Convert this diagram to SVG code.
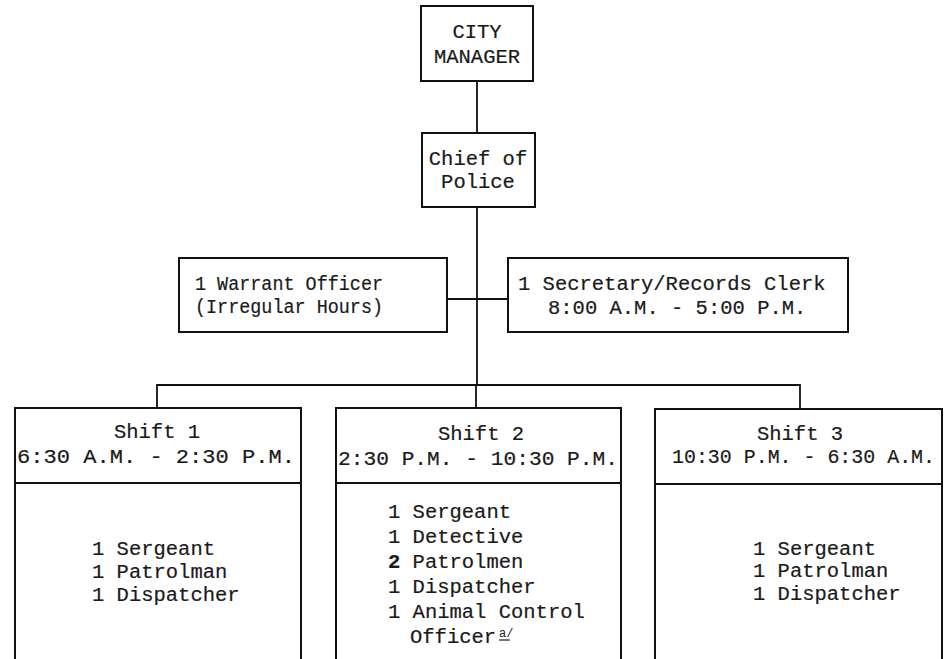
<svg xmlns="http://www.w3.org/2000/svg" width="951" height="659" viewBox="0 0 951 659">
<defs>
<style>
.box{fill:#fff;stroke:#111;stroke-width:2}
.ln{fill:none;stroke:#111;stroke-width:1.8}
.t{font-family:"Liberation Mono","Courier New",monospace;font-size:20.5px;fill:#1a1a1a;stroke:#1a1a1a;stroke-width:0.2}
.c{text-anchor:middle}
.sup{font-family:"Liberation Mono","Courier New",monospace;font-size:12px;fill:#1a1a1a}
</style>
</defs>
<rect width="951" height="659" fill="#fff"/>
<g id="connectors">
<line class="ln" x1="477" y1="81" x2="477" y2="133"/>
<line class="ln" x1="477" y1="207" x2="477" y2="385"/>
<line class="ln" x1="447" y1="299" x2="508" y2="299"/>
<polyline class="ln" points="157,408 157,385 800,385 800,409"/>
<line class="ln" x1="476" y1="385" x2="476" y2="408"/>
</g>
<g id="city-manager">
<rect class="box" x="421" y="6" width="112" height="75"/>
<text class="t c" x="477" y="38">CITY</text>
<text class="t c" x="477" y="63">MANAGER</text>
</g>
<g id="chief-of-police">
<rect class="box" x="422" y="133" width="113" height="74"/>
<text class="t c" x="478" y="165">Chief of</text>
<text class="t c" x="478" y="188">Police</text>
</g>
<g id="warrant-officer">
<rect class="box" x="179" y="258" width="268" height="74"/>
<text class="t" x="195" y="290" textLength="188" lengthAdjust="spacingAndGlyphs">1 Warrant Officer</text>
<text class="t" x="195" y="313" textLength="188" lengthAdjust="spacingAndGlyphs">(Irregular Hours)</text>
</g>
<g id="secretary">
<rect class="box" x="508" y="258" width="340" height="74"/>
<text class="t" x="518" y="290">1 Secretary/Records Clerk</text>
<text class="t" x="548" y="314">8:00 A.M. - 5:00 P.M.</text>
</g>
<g id="shift-1">
<rect class="box" x="15" y="408" width="286" height="280"/>
<line class="ln" x1="15" y1="483" x2="301" y2="483"/>
<text class="t c" x="157" y="438">Shift 1</text>
<text class="t" x="17" y="463" textLength="278" lengthAdjust="spacingAndGlyphs">6:30 A.M. - 2:30 P.M.</text>
<text class="t" x="92" y="555">1 Sergeant</text>
<text class="t" x="92" y="578">1 Patrolman</text>
<text class="t" x="92" y="601">1 Dispatcher</text>
</g>
<g id="shift-2">
<rect class="box" x="336" y="408" width="285" height="280"/>
<line class="ln" x1="336" y1="483" x2="621" y2="483"/>
<text class="t c" x="481" y="440">Shift 2</text>
<text class="t" x="338" y="465" textLength="280" lengthAdjust="spacingAndGlyphs">2:30 P.M. - 10:30 P.M.</text>
<text class="t" x="388" y="518">1 Sergeant</text>
<text class="t" x="388" y="543">1 Detective</text>
<text class="t" x="388" y="568"><tspan font-weight="bold">2</tspan> Patrolmen</text>
<text class="t" x="388" y="593">1 Dispatcher</text>
<text class="t" x="388" y="618">1 Animal Control</text>
<text class="t" x="410" y="643">Officer</text>
<text class="sup" x="499" y="637">a/</text>
<line x1="499" y1="640" x2="510" y2="640" stroke="#1a1a1a" stroke-width="1.2"/>
</g>
<g id="shift-3">
<rect class="box" x="655" y="409" width="287" height="280"/>
<line class="ln" x1="655" y1="484" x2="942" y2="484"/>
<text class="t c" x="800" y="440">Shift 3</text>
<text class="t" x="672" y="463" textLength="263" lengthAdjust="spacingAndGlyphs">10:30 P.M. - 6:30 A.M.</text>
<text class="t" x="753" y="555">1 Sergeant</text>
<text class="t" x="753" y="577">1 Patrolman</text>
<text class="t" x="753" y="600">1 Dispatcher</text>
</g>
</svg>
